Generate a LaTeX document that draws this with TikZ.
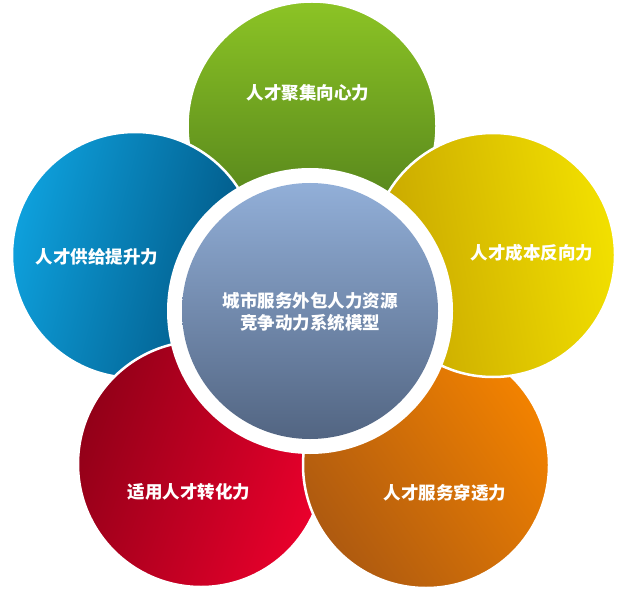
\documentclass[tikz,border=0pt]{standalone}
\usepackage{fontspec}
\newfontfamily\cjk{Noto Sans CJK SC}
\definecolor{gTop}{HTML}{8CC425}
\definecolor{gBot}{HTML}{4B781A}
\definecolor{bLight}{HTML}{0EA0DC}
\definecolor{bDark}{HTML}{00527F}
\definecolor{yDark}{HTML}{C6A400}
\definecolor{yLight}{HTML}{F2E000}
\definecolor{rDark}{HTML}{920018}
\definecolor{rLight}{HTML}{EA002C}
\definecolor{oDark}{HTML}{AE5A10}
\definecolor{oLight}{HTML}{F28200}
\definecolor{cTop}{HTML}{92AFD8}
\definecolor{cBot}{HTML}{526582}
\tikzset{
  petal/.style={circle, inner sep=0pt, minimum size=246pt, draw=white, line width=2.5pt},
  hub/.style={circle, inner sep=0pt, minimum size=256pt, top color=cTop, bottom color=cBot},
  ring/.style={circle, inner sep=0pt, minimum size=286pt, fill=white},
  lbl/.style={text=white, font=\cjk\bfseries\fontsize{17.5}{21.5}\selectfont, align=center, inner sep=0pt}
}
\begin{document}
\begin{tikzpicture}[x=1pt,y=-1pt]
\useasboundingbox (0,0) rectangle (620,593);
% petals (bottom to top)
\node[petal, minimum size=249pt, top color=gTop, bottom color=gBot] (green) at (312,126) {};
\node[petal, top color=bLight, bottom color=bDark, shading angle=75] (blue) at (135,255) {};
\node[petal, top color=rLight, bottom color=rDark, shading angle=-110] (red) at (201,464) {};
\node[petal, top color=oLight, bottom color=oDark, shading angle=-55] (orange) at (426,465) {};
\node[petal, minimum size=244pt, top color=yLight, bottom color=yDark, shading angle=-80] (yellow) at (493,255) {};
% hub
\node[ring] (ringw) at (310,311) {};
\node[hub] (hub) at (310,311) {};
% labels
\node[lbl] (tg) at (308,93) {人才聚集向心力};
\node[lbl] (tb) at (97,257) {人才供给提升力};
\node[lbl] (ty) at (532,253) {人才成本反向力};
\node[lbl] (tr) at (189,492) {适用人才转化力};
\node[lbl] (to) at (445,493) {人才服务穿透力};
\node[lbl] (tc) at (310,312) {城市服务外包人力资源\\竞争动力系统模型};
\end{tikzpicture}
\end{document}
